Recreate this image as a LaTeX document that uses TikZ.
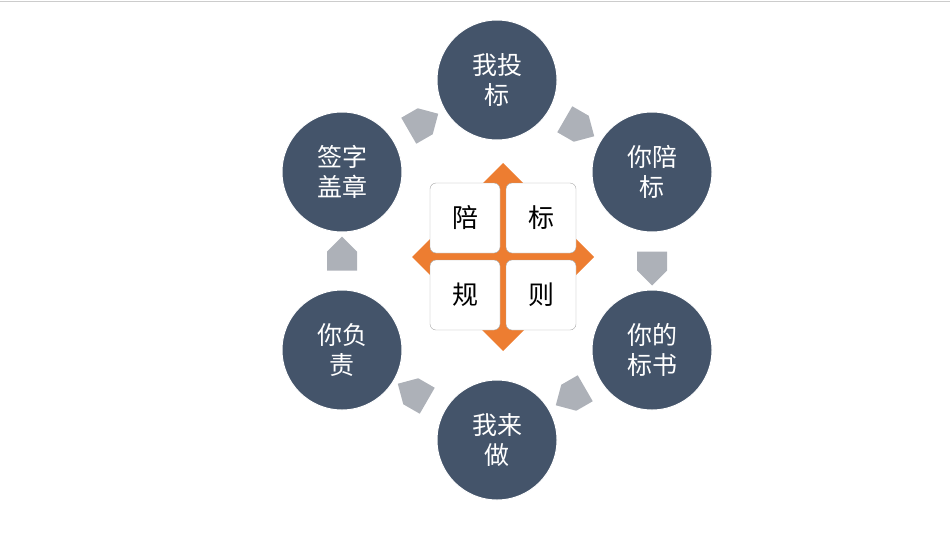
\documentclass[tikz,border=0pt]{standalone}
\usepackage{fontspec}
\setmainfont{Noto Sans CJK SC}
\usetikzlibrary{shapes.arrows}
\definecolor{slate}{HTML}{44546A}
\definecolor{org}{HTML}{ED7D31}
\definecolor{garr}{HTML}{ADB1B8}
\begin{document}
\begin{tikzpicture}[x=1pt,y=-1pt,
 circ/.style={circle,fill=slate,draw=white,line width=1pt,minimum size=120pt,inner sep=0pt,text=white,font=\fontsize{25}{30}\selectfont,align=center},
 sq/.style={rounded corners=6pt,draw=gray!70,fill=white,minimum size=70pt,inner sep=0pt,font=\fontsize{26}{30}\selectfont},
 garrow/.style={single arrow,fill=garr,minimum height=34pt,minimum width=30pt,single arrow head extend=0pt,inner sep=0pt,single arrow tip angle=90}]
\useasboundingbox (0,0) rectangle (950,536);
\draw[gray!40] (0,1) -- (950,1);
\node[circ] (a) at (497,80) {我投\\标};
\node[circ] (b) at (652,172) {你陪\\标};
\node[circ] (c) at (652,350) {你的\\标书};
\node[circ] (d) at (497,440) {我来\\做};
\node[circ] (e) at (342,350) {你负\\责};
\node[circ] (f) at (342,172) {签字\\盖章};
\node[garrow,rotate=-30] (ab) at (573,124) {};
\node[garrow,rotate=-90] (bc) at (652,261) {};
\node[garrow,rotate=-150] (cd) at (577,393) {};
\node[garrow,rotate=150] (de) at (419,396) {};
\node[garrow,rotate=90] (ef) at (342,261) {};
\node[garrow,rotate=30] (fa) at (417,126) {};
\coordinate (o) at (503,257);
\fill[org] (503,163) -- (527,187) -- (527,233) -- (570,233) -- (594,257) -- (570,281) -- (527,281) -- (527,327) -- (503,351) -- (479,327) -- (479,281) -- (436,281) -- (412,257) -- (436,233) -- (479,233) -- (479,187) -- cycle;
\node[sq] (s1) at (465,218) {陪};
\node[sq] (s2) at (541,218) {标};
\node[sq] (s3) at (465,295) {规};
\node[sq] (s4) at (541,295) {则};
\end{tikzpicture}
\end{document}
